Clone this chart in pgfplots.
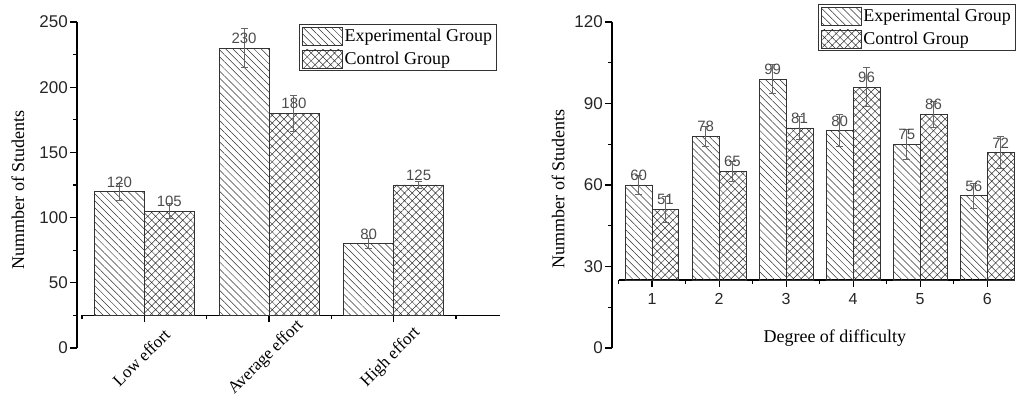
\documentclass[border=0pt]{standalone}
\usepackage{fontspec}
\setmainfont{Liberation Serif}
\newfontfamily\arial{Liberation Sans}
\usepackage{pgfplots}
\usepackage{pgfplotstable}
\pgfplotsset{compat=1.18}
\usetikzlibrary{patterns.meta}

\pgfplotstableread{
x y e
1 120 6.5
2 230 15
3 80 4
}\leftexp
\pgfplotstableread{
x y e
1 105 6
2 180 14
3 125 3
}\leftctl
\pgfplotstableread{
x y e
1 60 3.5
2 78 3.7
3 99 5.4
4 80 5.8
5 75 5.5
6 56 4.6
}\rightexp
\pgfplotstableread{
x y e
1 51 4.7
2 65 3.7
3 81 4.4
4 96 7.2
5 86 4.8
6 72 6
}\rightctl

\pgfplotsset{
  yaxisonly/.style={
    scale only axis, width=10pt, height=326pt,
    xmin=0, xmax=1,
    axis y line*=left, axis x line=none,
    axis line style={-, line width=1.3pt, black},
    tick align=outside, major tick length=7pt, minor tick length=4pt,
    tick style={line width=1.1pt, black},
    yticklabel style={font=\arial\fontsize{17}{17}\selectfont, /pgf/number format/assume math mode=true, inner sep=2pt, text=black!85},
    ylabel style={font=\fontsize{18}{18}\selectfont, anchor=center},
  },
  barsaxis/.style={
    scale only axis,
    axis x line*=bottom, axis y line=none, ytick=\empty,
    axis line style={-, line width=1.3pt, black},
    tick align=outside, major tick length=7pt, minor tick length=4pt,
    tick style={line width=1.1pt, black},
    ybar, bar width=0.4,
    clip=false,
    nodes near coords,
    nodes near coords style={font=\arial\fontsize{15}{15}\selectfont, /pgf/number format/assume math mode=true, text=black!70, anchor=south, inner sep=3pt, yshift=1pt},
    legend style={draw=black!80, line width=0.8pt, font=\fontsize{18}{18}\selectfont, inner sep=2.5pt, row sep=4pt, cells={anchor=west}},
  },
  errs/.style={
    error bars/y dir=both, error bars/y explicit,
    error bars/error bar style={black!60, line width=0.9pt},
    error bars/error mark options={rotate=90, black!60, line width=0.9pt, mark size=3.5pt},
  },
  mylegend/.style={legend image code/.code={\draw[##1, line width=0.7pt] (0pt,-9pt) rectangle (40pt,9pt);}},
  expbar/.style={draw=black!80, line width=0.7pt, pattern={Lines[angle=-45,distance=5pt,line width=0.5pt]}, pattern color=black!80, bar shift=-0.2, errs, mylegend},
  ctlbar/.style={draw=black!80, line width=0.7pt, pattern={Hatch[angle=45,distance=5.5pt,line width=0.5pt]}, pattern color=black!80, bar shift=0.2, errs, mylegend},
}

\begin{document}
\begin{tikzpicture}
\path[use as bounding box] (0pt,0pt) rectangle (1016pt,403pt);

% ---------- Left panel ----------
\begin{axis}[yaxisonly, at={(77pt,55pt)}, anchor=south west,
  ymin=0, ymax=250, ytick={0,50,...,250}, minor ytick={25,75,...,225},
  ylabel={Nummber of Students},
  ylabel style={at={(axis description cs:-5.9,0.485)}}]
\end{axis}

\begin{axis}[barsaxis, at={(82pt,87.6pt)}, anchor=south west,
  width=418pt, height=293.4pt,
  xmin=0.5, xmax=3.853, ymin=25, ymax=250,
  xtick={1,2,3}, xticklabels={Low effort, Average effort, High effort},
  minor xtick={0.5,1.5,2.5,3.5},
  xticklabel style={yshift=-35pt, xshift=-3pt, rotate=45, anchor=center, font=\fontsize{17}{17}\selectfont},
  legend style={at={(0.519,0.993)}, anchor=north west}]
\addplot[expbar] table[x=x, y=y, y error=e] {\leftexp};
\addplot[ctlbar] table[x=x, y=y, y error=e] {\leftctl};
\legend{Experimental Group, Control Group}
\end{axis}

% ---------- Right panel ----------
\begin{axis}[yaxisonly, at={(612pt,55pt)}, anchor=south west,
  ymin=0, ymax=120, ytick={0,30,...,120}, minor ytick={15,45,...,105},
  ylabel={Nummber of Students},
  ylabel style={at={(axis description cs:-5.4,0.488)}}]
\end{axis}

\begin{axis}[barsaxis, at={(618.5pt,123pt)}, anchor=south west,
  width=395.5pt, height=258pt,
  xmin=0.5, xmax=6.4, ymin=25, ymax=120,
  xtick={1,...,6}, minor xtick={0.5,1.5,...,6.5},
  xticklabel style={font=\arial\fontsize{16}{16}\selectfont, /pgf/number format/assume math mode=true, yshift=-3pt, text=black!85},
  xlabel={Degree of difficulty},
  xlabel style={font=\fontsize{18}{18}\selectfont, at={(axis description cs:0.547,-0.225)}, anchor=center},
  legend style={at={(0.504,1.07)}, anchor=north west}]
\addplot[expbar] table[x=x, y=y, y error=e] {\rightexp};
\addplot[ctlbar] table[x=x, y=y, y error=e] {\rightctl};
\legend{Experimental Group, Control Group}
\end{axis}
\end{tikzpicture}
\end{document}
